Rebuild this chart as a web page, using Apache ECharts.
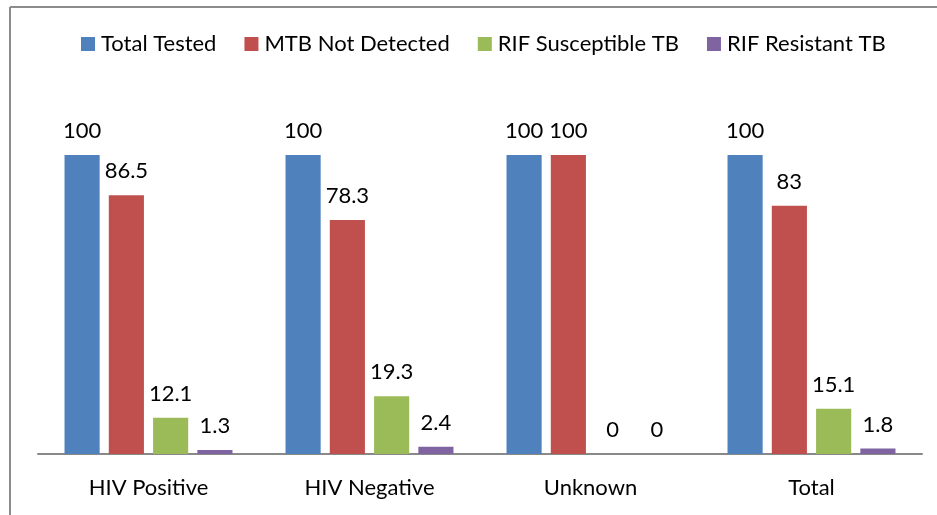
<!DOCTYPE html>
<html>
<head>
<meta charset="utf-8">
<script src="https://cdn.jsdelivr.net/npm/echarts@6/dist/echarts.min.js"></script>
<style>
html, body { margin: 0; padding: 0; background: #fff; }
#chart { width: 937px; height: 515px; }
</style>
</head>
<body>
<div id="chart"></div>
<script>
const categories = ['HIV Positive', 'HIV Negative', 'Unknown', 'Total'];
const totalTested = [100, 100, 100, 100];
const mtbNotDetected = [86.5, 78.3, 100, 83];
const rifSusceptible = [12.1, 19.3, 0, 15.1];
const rifResistant = [1.3, 2.4, 0, 1.8];

const FONT = 'Lato, "Open Sans", sans-serif';

const chart = echarts.init(document.getElementById('chart'));

const mkSeries = (name, data, color) => ({
    name: name,
    type: 'bar',
    data: data,
    barGap: '26%',
    barCategoryGap: '24%',
    itemStyle: { color: color },
    label: {
        show: true,
        position: 'top',
        distance: 13,
        color: '#000',
        fontFamily: FONT,
        fontSize: 22
    },
    animation: false
});

chart.setOption({
    animation: false,
    legend: {
        top: 28,
        left: 76,
        itemWidth: 14,
        itemHeight: 14,
        itemGap: 28,
        icon: 'rect',
        textStyle: { fontFamily: FONT, fontSize: 22, color: '#000', padding: [0, 0, 0, 1] },
        data: ['Total Tested', 'MTB Not Detected', 'RIF Susceptible TB', 'RIF Resistant TB']
    },
    grid: {
        left: 38,
        right: 15,
        top: 155,
        bottom: 61
    },
    xAxis: {
        type: 'category',
        data: categories,
        axisLine: { lineStyle: { color: '#898989', width: 2 } },
        axisTick: { show: false },
        axisLabel: { fontFamily: FONT, fontSize: 22, color: '#000', margin: 23 }
    },
    yAxis: {
        type: 'value',
        min: 0,
        max: 100,
        show: false
    },
    graphic: [
        { type: 'line', shape: { x1: 10, y1: 7, x2: 937, y2: 7 }, style: { stroke: '#8c8c8c', lineWidth: 2 } },
        { type: 'line', shape: { x1: 10, y1: 7, x2: 10, y2: 515 }, style: { stroke: '#8c8c8c', lineWidth: 2 } }
    ],
    series: [
        mkSeries('Total Tested', totalTested, '#4F81BD'),
        mkSeries('MTB Not Detected', mtbNotDetected, '#C0504D'),
        mkSeries('RIF Susceptible TB', rifSusceptible, '#9BBB59'),
        mkSeries('RIF Resistant TB', rifResistant, '#8064A2')
    ]
});
</script>
</body>
</html>
